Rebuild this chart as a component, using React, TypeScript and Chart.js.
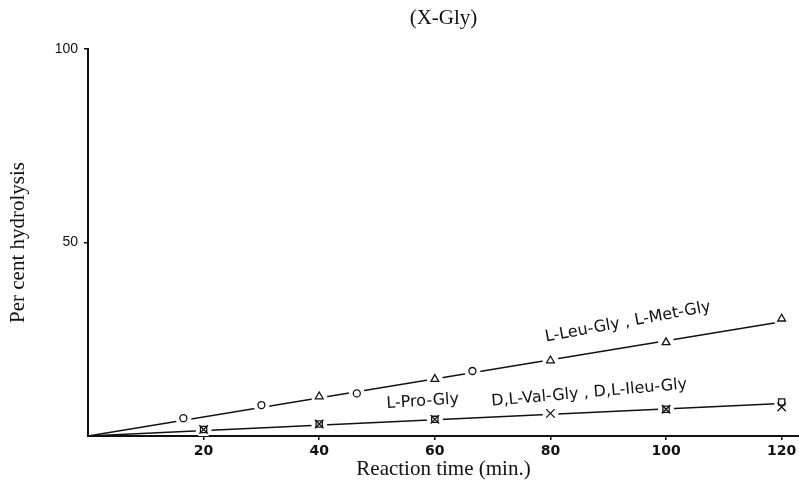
import React, { useEffect, useRef } from 'react';
import { Chart, registerables } from 'chart.js';

Chart.register(...registerables);

// L-Leu-Gly / L-Met-Gly (upper curve)
const circleTimes = [16.5, 30, 46.5, 66.5];
const circleValues = [4.6, 8.0, 11.0, 16.8];
const triangleTimes = [40, 60, 80, 100, 120];
const triangleValues = [10.2, 14.7, 19.5, 24.2, 30.3];
// L-Pro-Gly / D,L-Val-Gly / D,L-Ileu-Gly (lower curve)
const squareTimes = [20, 40, 60, 100, 120];
const squareValues = [1.7, 3.1, 4.3, 6.9, 8.8];
const crossTimes = [20, 40, 60, 80, 100, 120];
const crossValues = [1.7, 3.1, 4.3, 5.85, 6.9, 7.5];
// fitted straight lines
const fitTimes = [0, 120];
const upperFitValues = [0, 29.5];
const lowerFitValues = [0, 8.4];
// ticks
const xTickValues = [20, 40, 60, 80, 100, 120];
const yTickValues = [50, 100];
// curve labels
const labelTexts = ['L-Leu-Gly , L-Met-Gly', 'L-Pro-Gly', 'D,L-Val-Gly , D,L-Ileu-Gly'];
const labelTimes = [93.4, 57.9, 86.7];
const labelValues = [29.4, 8.9, 11.1];
const labelAngles = [-10.5, -3.5, -5];
const chartTitle = '(X-Gly)';

const INK = '#111';

const pts = (xs: number[], ys: number[]) => xs.map((x, i) => ({ x, y: ys[i] }));

const labelPlugin = {
  id: 'curveLabels',
  afterDatasetsDraw(chart: any) {
    const { ctx, scales, chartArea } = chart;
    const xs = scales.x;
    const ys = scales.y;
    ctx.save();
    ctx.fillStyle = INK;
    ctx.textAlign = 'center';
    ctx.textBaseline = 'middle';
    ctx.font = '16px "DejaVu Sans"';
    labelTexts.forEach((t, i) => {
      ctx.save();
      ctx.translate(xs.getPixelForValue(labelTimes[i]), ys.getPixelForValue(labelValues[i]));
      ctx.rotate((labelAngles[i] * Math.PI) / 180);
      ctx.fillText(t, 0, 0);
      ctx.restore();
    });
    // chart title, centred over the plotting area
    ctx.font = '21px "Liberation Serif"';
    ctx.fillText(chartTitle, (chartArea.left + chartArea.right) / 2, 18);
    ctx.restore();
  },
};

export default function App() {
  const ref = useRef<HTMLCanvasElement | null>(null);

  useEffect(() => {
    if (!ref.current) return;
    const halo = (xs: number[], ys: number[], r: number) => ({
      data: pts(xs, ys),
      pointStyle: 'circle',
      pointRadius: r,
      pointBackgroundColor: '#fff',
      pointBorderColor: '#fff',
      pointBorderWidth: 0,
      showLine: false,
      order: 1,
    });
    const marker = (xs: number[], ys: number[], style: string, r: number) => ({
      data: pts(xs, ys),
      pointStyle: style,
      pointRadius: r,
      pointBackgroundColor: 'rgba(0,0,0,0)',
      pointBorderColor: INK,
      pointBorderWidth: 1.3,
      showLine: false,
      order: 0,
    });
    const fit = (ys: number[]) => ({
      data: pts(fitTimes, ys),
      showLine: true,
      borderColor: INK,
      borderWidth: 1.5,
      pointRadius: 0,
      order: 2,
    });

    const chart = new Chart(ref.current, {
      type: 'scatter',
      data: {
        datasets: [
          marker(circleTimes, circleValues, 'circle', 3.5),
          marker(triangleTimes, triangleValues, 'triangle', 4.5),
          marker(squareTimes, squareValues, 'rect', 4.4),
          marker(crossTimes, crossValues, 'crossRot', 6),
          halo(circleTimes, circleValues, 8),
          halo(triangleTimes, triangleValues, 8),
          halo(crossTimes, crossValues, 8),
          fit(upperFitValues),
          fit(lowerFitValues),
        ] as any,
      },
      options: {
        responsive: false,
        animation: false,
        layout: { autoPadding: false, padding: { top: 49, left: 0, right: 0, bottom: 0 } },
        plugins: {
          legend: { display: false },
          tooltip: { enabled: false },
          title: { display: false },
        },
        scales: {
          x: {
            type: 'linear',
            min: 0,
            max: 123,
            afterBuildTicks: (s: any) => {
              s.ticks = xTickValues.map((v) => ({ value: v }));
            },
            afterFit: (s: any) => {
              s.height = 63;
              s.paddingLeft = 0;
              s.paddingRight = 0;
            },
            border: { display: true, color: INK, width: 2 },
            grid: { drawOnChartArea: false, drawTicks: true, tickLength: 4, color: INK, lineWidth: 1.5 },
            ticks: {
              color: INK,
              padding: 3,
              maxRotation: 0,
              font: { family: '"DejaVu Sans"', size: 14, weight: 'bold' },
            },
            title: {
              display: true,
              text: 'Reaction time (min.)',
              color: INK,
              font: { family: '"Liberation Serif"', size: 21 },
              padding: { top: 0, bottom: 17 },
            },
          },
          y: {
            type: 'linear',
            min: 0,
            max: 100,
            afterBuildTicks: (s: any) => {
              s.ticks = yTickValues.map((v) => ({ value: v }));
            },
            afterFit: (s: any) => {
              s.width = 88;
              s.paddingTop = 0;
              s.paddingBottom = 0;
            },
            border: { display: true, color: INK, width: 2 },
            grid: { drawOnChartArea: false, drawTicks: true, tickLength: 4, color: INK, lineWidth: 1.5 },
            ticks: {
              color: INK,
              padding: 6,
              font: { family: '"Liberation Sans"', size: 14 },
            },
            title: {
              display: true,
              text: 'Per cent hydrolysis',
              color: INK,
              font: { family: '"Liberation Serif"', size: 21 },
              padding: { top: 6, bottom: 0 },
            },
          },
        },
      } as any,
      plugins: [labelPlugin],
    });
    return () => chart.destroy();
  }, []);

  return (
    <div style={{ position: 'absolute', left: 0, top: 0, width: 799, height: 499, background: '#fff' }}>
      <canvas ref={ref} width={799} height={499} style={{ display: 'block' }} />
    </div>
  );
}
